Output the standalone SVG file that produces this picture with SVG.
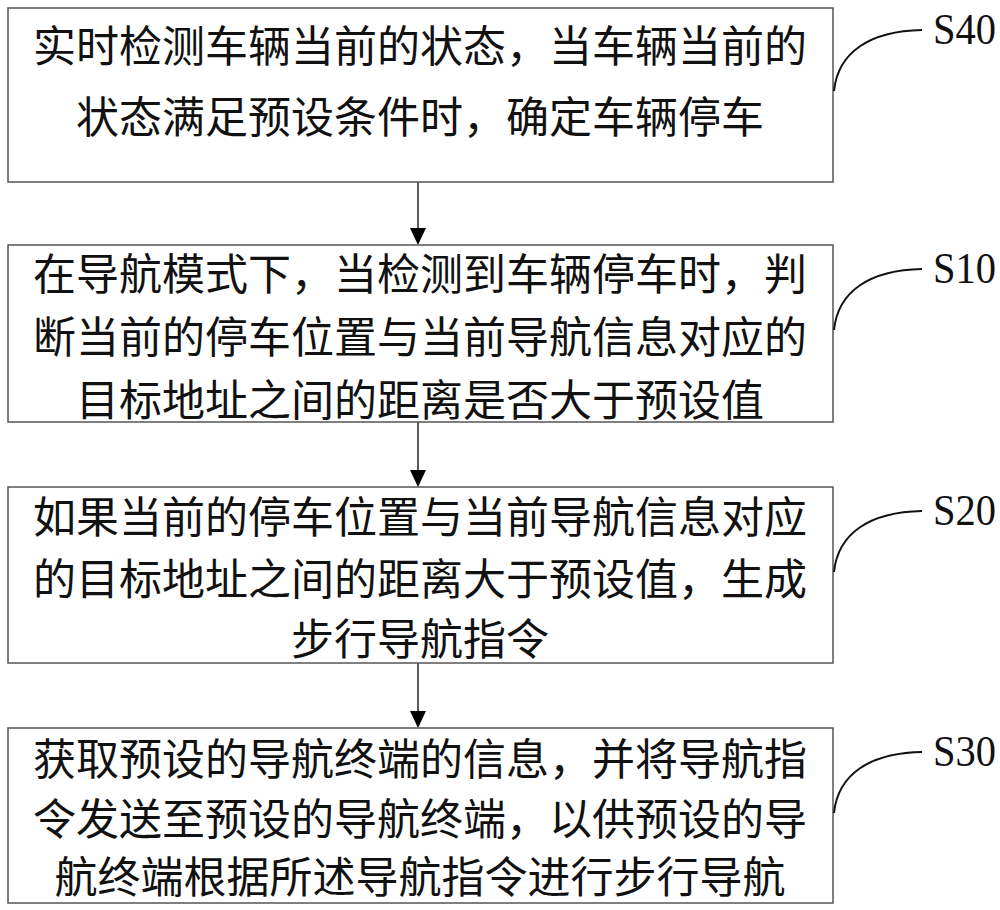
<svg xmlns="http://www.w3.org/2000/svg" width="1000" height="910" viewBox="0 0 1000 910">
<style>
.box{fill:#fff;stroke:#555;stroke-width:1.5}
.t{font-family:"Noto Sans CJK SC","Noto Sans CJK JP",sans-serif;font-size:43px;fill:#111;text-anchor:middle}
.lbl{font-family:"Liberation Serif",serif;font-size:44px;fill:#111}
.cv{fill:none;stroke:#111;stroke-width:2}
.ln{stroke:#222;stroke-width:1.5}
.ah{fill:#000}
</style>
<rect width="1000" height="910" fill="#fff"/>
<g id="connectors">
<line class="ln" x1="418" y1="182" x2="418" y2="228"/>
<path class="ah" d="M410,228 L426,228 L418,245 Z"/>
<line class="ln" x1="418" y1="422" x2="418" y2="470"/>
<path class="ah" d="M410,470 L426,470 L418,487 Z"/>
<line class="ln" x1="418" y1="663" x2="418" y2="711"/>
<path class="ah" d="M410,711 L426,711 L418,728 Z"/>
</g>
<g id="S40">
<rect class="box" x="8" y="8" width="825" height="174"/>
<text class="t" x="420" y="62">实时检测车辆当前的状态，当车辆当前的</text>
<text class="t" x="420" y="133">状态满足预设条件时，确定车辆停车</text>
<path class="cv" d="M834,91 C838,52 870,31 922,30"/>
<text class="lbl" x="933" y="44" textLength="63" lengthAdjust="spacingAndGlyphs">S40</text>
</g>
<g id="S10">
<rect class="box" x="8" y="245" width="825" height="177"/>
<text class="t" x="420" y="290">在导航模式下，当检测到车辆停车时，判</text>
<text class="t" x="420" y="353">断当前的停车位置与当前导航信息对应的</text>
<text class="t" x="420" y="416">目标地址之间的距离是否大于预设值</text>
<path class="cv" d="M834,330 C838,291 870,270 922,269"/>
<text class="lbl" x="933" y="283" textLength="63" lengthAdjust="spacingAndGlyphs">S10</text>
</g>
<g id="S20">
<rect class="box" x="8" y="487" width="825" height="176"/>
<text class="t" x="420" y="533">如果当前的停车位置与当前导航信息对应</text>
<text class="t" x="420" y="595">的目标地址之间的距离大于预设值，生成</text>
<text class="t" x="420" y="655">步行导航指令</text>
<path class="cv" d="M834,572 C838,533 870,512 922,511"/>
<text class="lbl" x="933" y="525" textLength="63" lengthAdjust="spacingAndGlyphs">S20</text>
</g>
<g id="S30">
<rect class="box" x="8" y="728" width="825" height="175"/>
<text class="t" x="420" y="775">获取预设的导航终端的信息，并将导航指</text>
<text class="t" x="420" y="835">令发送至预设的导航终端，以供预设的导</text>
<text class="t" x="420" y="893">航终端根据所述导航指令进行步行导航</text>
<path class="cv" d="M834,813 C838,774 870,753 922,752"/>
<text class="lbl" x="933" y="766" textLength="63" lengthAdjust="spacingAndGlyphs">S30</text>
</g>
</svg>
